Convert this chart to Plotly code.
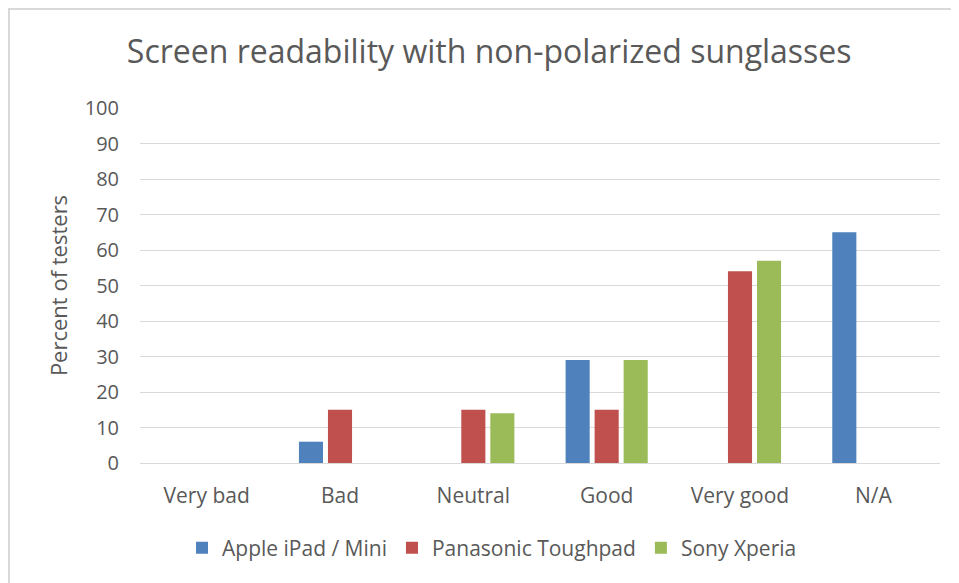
import plotly.graph_objects as go

categories = ["Very bad", "Bad", "Neutral", "Good", "Very good", "N/A"]
apple = [0, 6, 0, 29, 0, 65]
panasonic = [0, 15, 15, 15, 54, 0]
sony = [0, 0, 14, 29, 57, 0]
series_names = ["Apple iPad / Mini", "Panasonic Toughpad", "Sony Xperia"]
colors = ["#4F81BD", "#C0504D", "#9BBB59"]
y_ticks = list(range(0, 101, 10))

FONT = "'Open Sans', Lato, sans-serif"
GRAY = "#595959"

# page has an 8px body margin; figure is sized to fill the rest of the window
W, H = 951, 575
L, R, T, B = 132, 19, 100, 120
PW, PH = W - L - R, H - T - B

fig = go.Figure()
for name, vals, col in zip(series_names, [apple, panasonic, sony], colors):
    fig.add_trace(go.Bar(x=categories, y=vals, name=name,
                         marker=dict(color=col, line=dict(width=0))))

fig.update_layout(
    width=W, height=H,
    margin=dict(l=L, r=R, t=T, b=B),
    paper_bgcolor="white", plot_bgcolor="white",
    barmode="group", bargap=0.347, bargroupgap=0.17,
    font=dict(family=FONT, color=GRAY),
    title=dict(text="Screen readability with non-polarized sunglasses",
               x=0.506, xanchor="center", y=1 - 44 / H, yanchor="middle",
               font=dict(size=32, color=GRAY, family=FONT)),
    showlegend=True,
    legend=dict(orientation="h", x=0.44, xanchor="center", y=-85 / PH,
                yanchor="middle", font=dict(size=21, color=GRAY), traceorder="normal"),
    xaxis=dict(showgrid=False, showline=True, linecolor="#D9D9D9", linewidth=1,
               tickfont=dict(size=21, color=GRAY), ticks="", ticklabelstandoff=14),
    yaxis=dict(range=[0, 100], tickvals=y_ticks, showgrid=True, gridcolor="#D9D9D9",
               gridwidth=1, zeroline=False, showline=False,
               tickfont=dict(size=20, color=GRAY), ticks="", ticklabelstandoff=20,
               title=dict(text="Percent of testers", font=dict(size=22, color=GRAY),
                          standoff=10)),
)

fig.add_shape(type="rect", xref="paper", yref="paper",
              x0=(1 - L) / PW, x1=(W + 100 - L) / PW,
              y0=-2.0, y1=(PH + T - 1) / PH,
              line=dict(color="#D9D9D9", width=2), fillcolor="rgba(0,0,0,0)", layer="below")

fig.write_html("out.html")
